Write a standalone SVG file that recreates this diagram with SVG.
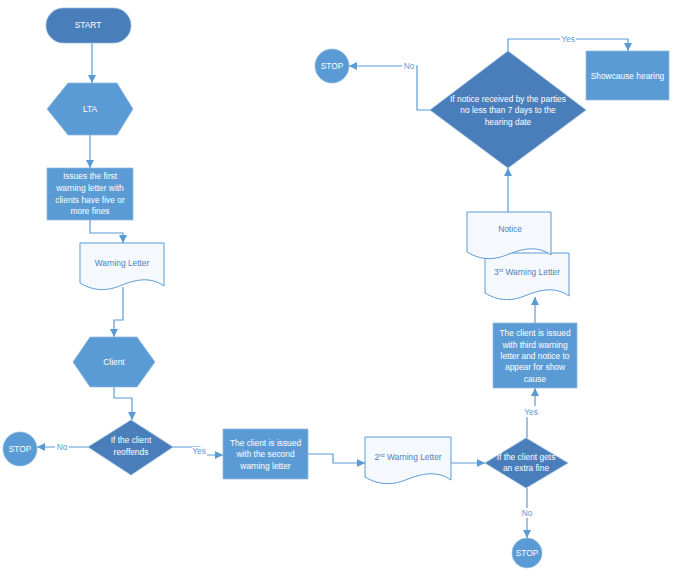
<svg xmlns="http://www.w3.org/2000/svg" width="675" height="582" viewBox="0 0 675 582">
<style>
text{font-family:"Liberation Sans",Arial,sans-serif;font-size:8.4px;text-anchor:middle}
.w{fill:#ffffff}
.b{fill:#4f81bd}
.lt{fill:#5b9bd5}
.fill1{fill:#5b9bd5;stroke:#8fb8e0;stroke-width:0.7}
.fill2{fill:#4a7ebb;stroke:#8fb8e0;stroke-width:0.7}
.doc{fill:#f5f8fc;stroke:#5b9bd5;stroke-width:1}
.c{fill:none;stroke:#5b9bd5;stroke-width:1.2}
.lb{fill:#ffffff}
</style>
<defs>
<marker id="ah" viewBox="0 0 10 10" refX="10" refY="5" markerWidth="8" markerHeight="8" markerUnits="userSpaceOnUse" orient="auto">
<path d="M0,0 L10,5 L0,10 Z" fill="#5b9bd5"/>
</marker>
<path id="docshape" d="M0,0 H84 V43 C70,33 55,37 42,42 C28,48 15,49 0,40 Z"/>
</defs>
<g id="connectors">
<path class="c" d="M92,43 V83" marker-end="url(#ah)"/>
<path class="c" d="M90,135 V168" marker-end="url(#ah)"/>
<path class="c" d="M90,220 V233 H123 V243" marker-end="url(#ah)"/>
<path class="c" d="M123,287 V320 H114 V337" marker-end="url(#ah)"/>
<path class="c" d="M114,387 V398 H132 V420" marker-end="url(#ah)"/>
<path class="c" d="M88,447 H37" marker-end="url(#ah)"/>
<path class="c" d="M173,447 H200 V455 H223" marker-end="url(#ah)"/>
<path class="c" d="M308,454 H333 V463 H365" marker-end="url(#ah)"/>
<path class="c" d="M451,463 H485" marker-end="url(#ah)"/>
<path class="c" d="M527,438 V412 H535 V388" marker-end="url(#ah)"/>
<path class="c" d="M527,488 V538" marker-end="url(#ah)"/>
<path class="c" d="M535,323 V297" marker-end="url(#ah)"/>
<path class="c" d="M508,212 V168" marker-end="url(#ah)"/>
<path class="c" d="M430,110 H417 V66 H349" marker-end="url(#ah)"/>
<path class="c" d="M508,51 V39 H628 V51" marker-end="url(#ah)"/>
<rect class="lb" x="55" y="442" width="14" height="10"/>
<text class="lt" x="62" y="450">No</text>
<rect class="lb" x="192" y="447" width="15" height="9"/>
<text class="lt" x="199" y="454">Yes</text>
<rect class="lb" x="523" y="406" width="16" height="11"/>
<text class="lt" x="531" y="415">Yes</text>
<rect class="lb" x="520" y="508" width="14" height="10"/>
<text class="lt" x="527" y="516">No</text>
<rect class="lb" x="402" y="61" width="14" height="10"/>
<text class="lt" x="409" y="69">No</text>
<rect class="lb" x="560" y="34" width="16" height="10"/>
<text class="lt" x="568" y="42">Yes</text>
</g>
<g id="start">
<rect class="fill2" x="46" y="8" width="85" height="35" rx="17.5"/>
<text class="w" x="88" y="28">START</text>
</g>
<g id="lta">
<polygon class="fill1" points="47,109 68,83 117,83 133,109 117,135 68,135"/>
<text class="w" x="90" y="112">LTA</text>
</g>
<g id="issue-first">
<rect class="fill1" x="47" y="168" width="86" height="52"/>
<text class="w" x="90" y="179">Issues the first</text>
<text class="w" x="90" y="191">warning letter with</text>
<text class="w" x="90" y="203">clients have five or</text>
<text class="w" x="90" y="214">more fines</text>
</g>
<g id="warning-letter">
<use href="#docshape" class="doc" transform="translate(80,243)"/>
<text class="b" x="122" y="266">Warning Letter</text>
</g>
<g id="client">
<polygon class="fill1" points="73,362 90,337 137,337 155,362 137,387 90,387"/>
<text class="w" x="114" y="365">Client</text>
</g>
<g id="reoffends">
<polygon class="fill2" points="131,420 173,447 131,475 88,447"/>
<text class="w" x="131" y="443">If the client</text>
<text class="w" x="131" y="455">reoffends</text>
</g>
<g id="stop1">
<circle class="fill1" cx="20" cy="449" r="17"/>
<text class="w" x="20" y="452">STOP</text>
</g>
<g id="issue-second">
<rect class="fill1" x="223" y="429" width="85" height="50"/>
<text class="w" x="265.5" y="446">The client is issued</text>
<text class="w" x="265.5" y="457">with the second</text>
<text class="w" x="265.5" y="469">warning letter</text>
</g>
<g id="second-letter">
<path class="doc" d="M365,437 H451 V480 C437,470 421,474 408,479 C394,485 380,486 365,477 Z"/>
<text class="b" x="408" y="460">2<tspan font-size="5" baseline-shift="super">nd</tspan> Warning Letter</text>
</g>
<g id="extra-fine">
<polygon class="fill2" points="526,438 568,463 526,488 485,463"/>
<text class="w" x="526" y="460">If the client gets</text>
<text class="w" x="526" y="471">an extra fine</text>
</g>
<g id="stop2">
<circle class="fill1" cx="527" cy="553" r="15"/>
<text class="w" x="527" y="556">STOP</text>
</g>
<g id="issue-third">
<rect class="fill1" x="493" y="323" width="84" height="65"/>
<text class="w" x="535" y="336">The client is issued</text>
<text class="w" x="535" y="348">with third warning</text>
<text class="w" x="535" y="359">letter and notice to</text>
<text class="w" x="535" y="370">appear for show</text>
<text class="w" x="535" y="382">cause</text>
</g>
<g id="third-letter">
<use href="#docshape" class="doc" transform="translate(485,253)"/>
<text class="b" x="527" y="275">3<tspan font-size="5" baseline-shift="super">rd</tspan> Warning Letter</text>
</g>
<g id="notice">
<use href="#docshape" class="doc" transform="translate(467,212)"/>
<text class="b" x="510" y="232">Notice</text>
</g>
<g id="notice-received">
<polygon class="fill2" points="508,51 586,110 508,168 430,110"/>
<text class="w" x="508" y="102">If notice received by the parties</text>
<text class="w" x="508" y="113">no less than 7 days to the</text>
<text class="w" x="508" y="125">hearing date</text>
</g>
<g id="stop3">
<circle class="fill1" cx="332" cy="66" r="17"/>
<text class="w" x="332" y="69">STOP</text>
</g>
<g id="showcause">
<rect class="fill1" x="586" y="51" width="83" height="49"/>
<text class="w" x="627.5" y="79">Showcause hearing</text>
</g>
</svg>
